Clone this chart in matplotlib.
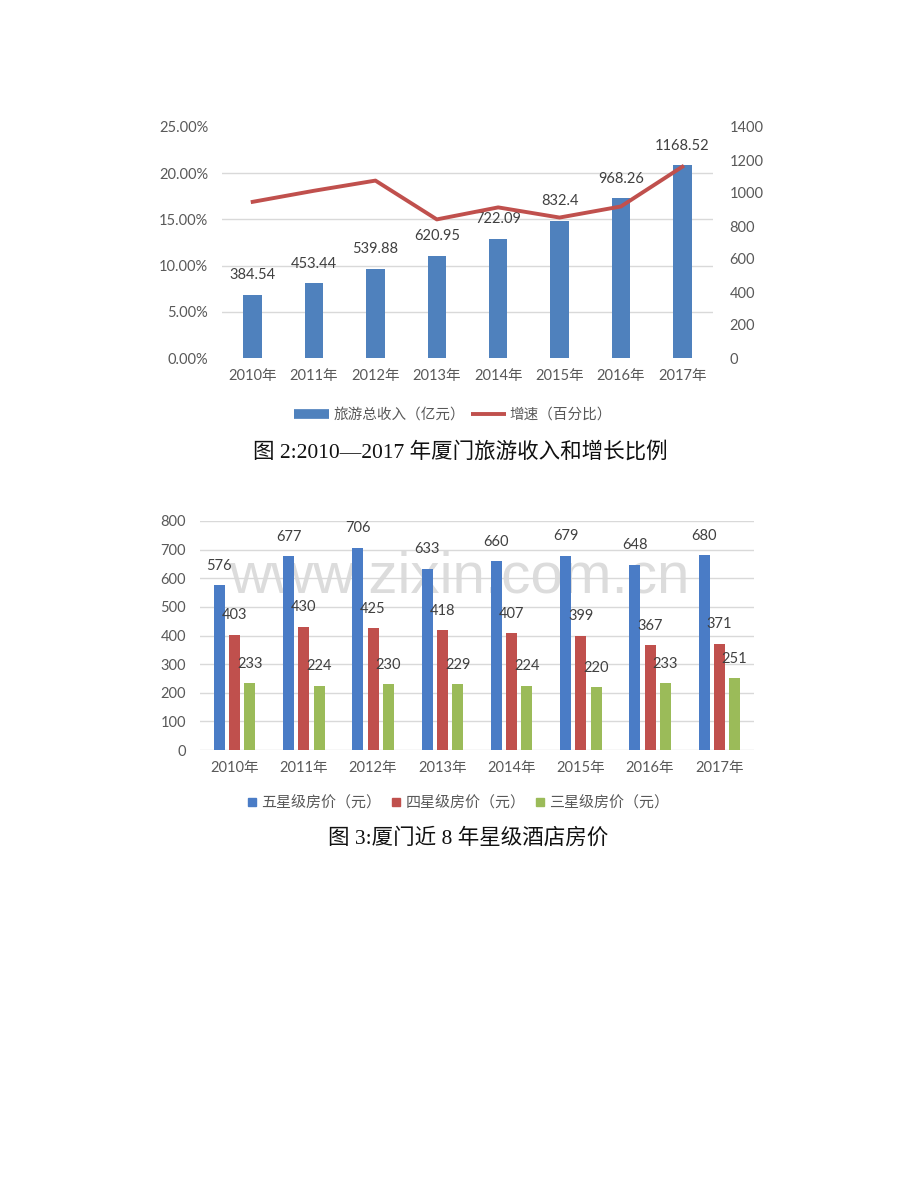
import numpy as np
import matplotlib
matplotlib.use("Agg")
import matplotlib.pyplot as plt
from matplotlib.lines import Line2D
from matplotlib.ticker import FixedLocator, FuncFormatter

plt.rcParams['font.family'] = ['Lato', 'Noto Sans CJK SC', 'DejaVu Sans']

years = ['2010年', '2011年', '2012年', '2013年', '2014年', '2015年', '2016年', '2017年']

# chart 1: tourism income (100 million yuan) and growth rate (%)
income = [384.54, 453.44, 539.88, 620.95, 722.09, 832.4, 968.26, 1168.52]
growth = [16.9, 18.1, 19.2, 15.0, 16.3, 15.2, 16.4, 20.7]

# chart 2: star hotel room prices (yuan)
five_star = [576, 677, 706, 633, 660, 679, 648, 680]
four_star = [403, 430, 425, 418, 407, 399, 367, 371]
three_star = [233, 224, 230, 229, 224, 220, 233, 251]

W, H = 920, 1191
GRAY = '#595959'
GRID = '#D9D9D9'
BLUE1 = '#4F81BD'
BLUE2 = '#4A7CC6'
RED = '#C0504D'
GREEN = '#9BBB59'
CAP_FONT = ['Liberation Serif', 'Noto Sans CJK SC']


def box(x0, y0, x1, y1):
    # pixel box (top-left origin) -> figure fraction rect
    return [x0 / W, 1 - y1 / H, (x1 - x0) / W, (y1 - y0) / H]


fig = plt.figure(figsize=(W / 100, H / 100), dpi=100)
fig.patch.set_facecolor('white')

x = np.arange(len(years))

# ---------------- chart 1 ----------------
ax = fig.add_axes(box(222, 127, 713, 358))
ax.patch.set_visible(False)
ax.bar(x, income, width=0.3, color=BLUE1, zorder=2)
for xi, v in zip(x, income):
    ax.annotate(f'{v:g}', xy=(xi, v), xytext=(0, 14), textcoords='offset points',
                ha='center', va='center', fontsize=10.5, color='#404040')
ax.set_xlim(-0.5, len(years) - 0.5)
ax.set_ylim(0, 1400)
ax.set_yticks(np.arange(0, 1401, 200))
ax.yaxis.set_minor_locator(FixedLocator(np.linspace(0, 1400, 6)))
ax.grid(which='minor', axis='y', color=GRID, linewidth=1)
ax.set_axisbelow(True)
ax.set_xticks(x)
ax.set_xticklabels(years)
for s in ax.spines.values():
    s.set_visible(False)

ax2 = ax.twinx()
ax2.plot(x, growth, color=RED, linewidth=2.8, zorder=3)
ax2.set_ylim(0, 25)
ax2.set_yticks(np.arange(0, 26, 5))
ax2.yaxis.set_major_formatter(FuncFormatter(lambda v, p: f'{v:.2f}%'))
for s in ax2.spines.values():
    s.set_visible(False)

# income axis on the right, growth axis on the left
ax.yaxis.tick_right()
ax2.yaxis.tick_left()
ax.tick_params(which='minor', length=0)
ax.tick_params(axis='y', length=0, pad=12, labelsize=10.5, labelcolor=GRAY)
ax.tick_params(axis='x', length=0, pad=8, labelsize=10.5, labelcolor=GRAY)
ax2.tick_params(axis='y', length=0, pad=10, labelsize=10.5, labelcolor=GRAY)

h1 = [Line2D([], [], color=BLUE1, linewidth=7, solid_capstyle='butt'),
      Line2D([], [], color=RED, linewidth=2.8, solid_capstyle='butt')]
fig.legend(h1, ['旅游总收入（亿元）', '增速（百分比）'], loc='center',
           bbox_to_anchor=(453 / W, 1 - 415 / H), ncol=2, frameon=False,
           fontsize=10.5, labelcolor=GRAY, handlelength=2.4, handletextpad=0.3,
           columnspacing=0.4)

fig.text(460 / W, 1 - 452 / H, '图 2:2010—2017 年厦门旅游收入和增长比例',
         ha='center', va='center', fontsize=15.5, family=CAP_FONT, color='#111111')

# ---------------- chart 2 ----------------
bx = fig.add_axes(box(200, 521, 754, 750))
bx.patch.set_visible(False)
off, bw = 0.22, 0.16
series = [(five_star, BLUE2, -off), (four_star, RED, 0), (three_star, GREEN, off)]
for vals, col, dx in series:
    bx.bar(x + dx, vals, width=bw, color=col, zorder=2)
    for xi, v in zip(x + dx, vals):
        bx.annotate(str(v), xy=(xi, v), xytext=(0, 14), textcoords='offset points',
                    ha='center', va='center', fontsize=10.5, color='#404040', zorder=4)
bx.set_xlim(-0.5, len(years) - 0.5)
bx.set_ylim(0, 800)
bx.set_yticks(np.arange(0, 801, 100))
bx.grid(axis='y', color=GRID, linewidth=1)
bx.set_axisbelow(True)
bx.set_xticks(x)
bx.set_xticklabels(years)
bx.tick_params(axis='both', length=0, labelsize=10.5, labelcolor=GRAY)
bx.tick_params(axis='y', pad=10)
bx.tick_params(axis='x', pad=8)
for s in bx.spines.values():
    s.set_visible(False)

h2 = [Line2D([], [], color=c, marker='s', linestyle='none', markersize=6)
      for c in (BLUE2, RED, GREEN)]
fig.legend(h2, ['五星级房价（元）', '四星级房价（元）', '三星级房价（元）'], loc='center',
           bbox_to_anchor=(458 / W, 1 - 803 / H), ncol=3, frameon=False,
           fontsize=10.8, labelcolor=GRAY, handlelength=0.7, handletextpad=0.3,
           columnspacing=0.6)

fig.text(468 / W, 1 - 838 / H, '图 3:厦门近 8 年星级酒店房价',
         ha='center', va='center', fontsize=15.5, family=CAP_FONT, color='#111111')

# watermark
fig.text(459 / W, 1 - 578 / H, 'www.zixin.com.cn', ha='center', va='center',
         fontsize=42, family='Liberation Sans', color='#DCDCDC', zorder=-1)

fig.savefig('out.png', dpi=100, facecolor='white')
